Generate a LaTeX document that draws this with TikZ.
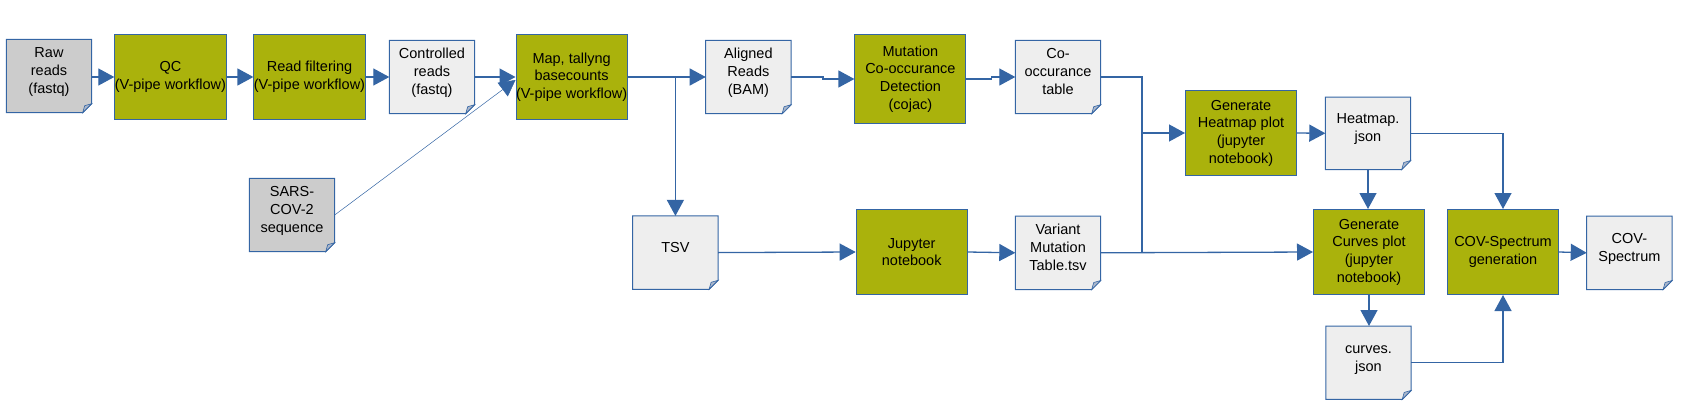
\documentclass[tikz,border=0pt]{standalone}
\usepackage{fontspec}
\setmainfont{Liberation Sans}
\usetikzlibrary{arrows.meta,backgrounds,calc}
\definecolor{lblue}{HTML}{3465A4}
\definecolor{procfill}{HTML}{AAB20C}
\definecolor{docfill}{HTML}{EEEEEE}
\definecolor{docgray}{HTML}{CCCCCC}
\definecolor{foldfill}{HTML}{A9B6CB}
\newcommand{\dtxt}[1]{\raisebox{4pt}[\height][\depth]{\begin{tabular}{@{}c@{}}#1\end{tabular}}}
\begin{document}
\begin{tikzpicture}[x=1pt,y=-1pt,
  every node/.style={font=\fontsize{14.5}{17.7}\selectfont, align=center, inner sep=0pt, text=black},
  proc/.style={draw=lblue, line width=1pt, fill=procfill, minimum width=111pt, minimum height=85pt},
  doc/.style={minimum width=85pt, minimum height=73pt},
  conn/.style={draw=lblue, line width=1.3pt, -{Triangle[length=16pt,width=17pt]}},
  plain/.style={draw=lblue, line width=1.3pt}
]
\useasboundingbox (0,0) rectangle (1684,415);

% row 1
\node[doc] (raw) at (49,76) {\dtxt{Raw\\reads\\(fastq)}};
\node[proc] (qc) at (170.4,77) {QC\\(V-pipe workflow)};
\node[proc] (filt) at (309.5,77) {Read filtering\\(V-pipe workflow)};
\node[doc] (ctrl) at (432,77) {\dtxt{Controlled\\reads\\(fastq)}};
\node[proc] (map) at (571.6,77) {Map, tallyng\\basecounts\\(V-pipe workflow)};
\node[doc] (aligned) at (748.4,77) {\dtxt{Aligned\\Reads\\(BAM)}};
\node[proc, minimum height=89pt] (mut) at (910.4,79) {Mutation\\Co-occurance\\Detection\\(cojac)};
\node[doc] (cooc) at (1058,77) {\dtxt{Co-\\occurance\\table}};

% SARS
\node[doc] (sars) at (292,215) {\dtxt{SARS-\\COV-2\\sequence}};

% heatmap row
\node[proc] (hgen) at (1241,133) {Generate\\Heatmap plot\\(jupyter\\notebook)};
\node[doc, minimum height=72pt] (hjson) at (1368,133.3) {\dtxt{Heatmap.\\json}};

% row 2
\node[doc] (tsv) at (675.4,252.6) {\dtxt{TSV}};
\node[proc] (jup) at (911.7,252) {Jupyter\\notebook};
\node[doc] (var) at (1058,252.8) {\dtxt{Variant\\Mutation\\Table.tsv}};
\node[proc] (cgen) at (1369,252) {Generate\\Curves plot\\(jupyter\\notebook)};
\node[proc] (covgen) at (1503,252) {COV-Spectrum\\generation};
\node[doc] (cov) at (1629.4,252.8) {\dtxt{COV-\\Spectrum}};

% row 3
\node[doc] (cjson) at (1368.5,362.7) {\dtxt{curves.\\json}};

% document shapes with folded corner
\begin{scope}[on background layer]
\foreach \n/\f in {raw/docgray, ctrl/docfill, aligned/docfill, cooc/docfill, sars/docgray, hjson/docfill, tsv/docfill, var/docfill, cov/docfill, cjson/docfill}{
  \path[fill=\f, draw=lblue, line width=1pt] (\n.north west) -- (\n.north east) -- ([yshift=9pt]\n.south east) -- ([xshift=-9pt]\n.south east) -- (\n.south west) -- cycle;
  \path[fill=foldfill, draw=lblue, line width=0.6pt] ([yshift=9pt]\n.south east) -- ([xshift=-9pt]\n.south east) -- ([xshift=-7pt,yshift=7pt]\n.south east) -- cycle;
}
\end{scope}

% connectors
\coordinate (br) at (675.4,77);
\coordinate (jx) at (1142,133);
\coordinate (jy) at (1142,252.8);

\draw[conn] (raw.east |- qc.west) -- (qc.west);
\draw[conn] (qc.east) -- (filt.west);
\draw[conn] (filt.east) -- (ctrl.west);
\draw[conn] (ctrl.east) -- (map.west);
\draw[conn, line width=0.5pt] (sars.east) -- ([yshift=-3pt]map.west);
\draw[conn] (map.east) -- (aligned.west);
\draw[conn] (br) -- (tsv.north);
\draw[conn] (aligned.east) -- ++(32,0) |- (mut.west);
\draw[conn] (mut.east) -- ++(25,0) |- (cooc.west);
\draw[plain] (cooc.east) -| (jy);
\draw[conn] (jx) -- (hgen.west);
\draw[conn] (hgen.east) -- (hjson.west);
\draw[conn] (tsv.east) -- (jup.west);
\draw[conn] (jup.east) -- (var.west);
\draw[conn] (var.east) -- (cgen.west);
\draw[conn] (hjson.south) -- (hjson.south |- cgen.north);
\draw[conn] (hjson.east) -| (covgen.north);
\draw[conn] (cgen.south) -- (cgen.south |- cjson.north);
\draw[conn] (cjson.east) -| (covgen.south);
\draw[conn] (covgen.east) -- (cov.west);
\end{tikzpicture}
\end{document}
